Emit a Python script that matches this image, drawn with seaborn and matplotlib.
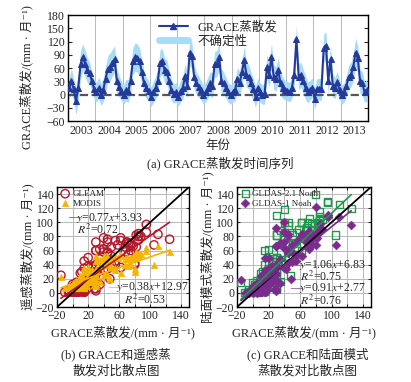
import numpy as np
import pandas as pd
import matplotlib
matplotlib.use("Agg")
import matplotlib.pyplot as plt
import seaborn as sns
from matplotlib.lines import Line2D

# monthly GRACE ET 2003-2013 (mm/month)
grace = [15, 30, 12, -15, 15, 68, 85, 70, 55, 48, 30, 12,
         5, 15, 0, 10, 35, 58, 62, 72, 80, 30, 18, 8,
         0, 10, 8, 30, 75, 85, 82, 75, 50, 25, 15, 8,
         -5, 5, 15, 30, 72, 75, 55, 50, 30, 10, 2, 5,
         -5, 8, 15, 42, 20, 95, 88, 40, 25, 18, 10, 0,
         5, 15, 25, 20, 68, 70, 85, 30, 25, 15, 5, 0,
         5, 10, 35, 25, 50, 78, 45, 40, 25, 12, -5, 15,
         5, 0, 2, 62, 45, 85, 40, 35, 55, 25, 15, 10,
         8, 5, 15, 45, 125, 40, 45, 30, 15, 5, 10, 15,
         -10, 12, 12, 12, 105, 110, 30, 80, 20, 15, 28, 10,
         0, 5, 20, 40, 45, 62, 95, 82, 30, 25, 5, 10]
uncert = [25, 28, 25, 30, 30, 32, 30, 30, 28, 25, 22, 22,
          22, 24, 25, 26, 28, 30, 32, 30, 30, 28, 24, 22,
          22, 24, 26, 28, 30, 32, 32, 30, 28, 26, 24, 22,
          22, 24, 26, 28, 30, 30, 28, 28, 26, 24, 22, 22,
          22, 24, 26, 28, 28, 30, 30, 28, 26, 24, 22, 22,
          22, 24, 26, 28, 30, 30, 30, 28, 26, 24, 22, 22,
          22, 24, 26, 28, 30, 30, 28, 28, 26, 24, 24, 22,
          22, 22, 24, 28, 28, 30, 28, 28, 28, 26, 24, 22,
          22, 22, 24, 28, 32, 30, 28, 28, 26, 24, 22, 22,
          24, 24, 24, 26, 32, 32, 30, 30, 26, 24, 24, 22,
          22, 22, 24, 26, 28, 30, 32, 30, 28, 26, 24, 24]

gleam = [2, 3, 10, 25, 45, 65, 80, 72, 45, 20, 6, 2,
         1, 3, 12, 28, 48, 68, 78, 70, 42, 18, 5, 1,
         2, 4, 10, 26, 60, 75, 82, 68, 40, 20, 6, 2,
         1, 3, 12, 30, 55, 70, 74, 65, 38, 15, 5, 1,
         2, 4, 15, 32, 50, 97, 80, 62, 35, 18, 6, 2,
         1, 5, 14, 28, 58, 72, 84, 60, 38, 16, 5, 1,
         2, 4, 12, 30, 52, 66, 76, 58, 36, 14, 4, 1,
         1, 3, 10, 36, 56, 80, 78, 62, 40, 18, 6, 2,
         2, 4, 14, 34, 76, 62, 72, 60, 35, 15, 5, 1,
         1, 3, 12, 30, 68, 83, 72, 40, 38, 16, 6, 2,
         2, 4, 13, 32, 58, 74, 86, 65, 40, 20, 6, 2]
modis = [8, 10, 15, 22, 35, 48, 55, 50, 35, 20, 12, 8,
         7, 9, 14, 24, 36, 50, 54, 48, 34, 18, 10, 7,
         8, 10, 16, 25, 40, 52, 58, 50, 36, 20, 12, 8,
         7, 9, 15, 24, 38, 50, 52, 46, 32, 18, 10, 7,
         8, 10, 16, 26, 36, 64, 55, 47, 33, 19, 11, 8,
         7, 10, 15, 24, 40, 50, 56, 45, 32, 18, 10, 7,
         8, 9, 15, 25, 38, 52, 50, 44, 31, 17, 10, 7,
         7, 9, 14, 28, 40, 55, 52, 46, 33, 18, 11, 8,
         8, 10, 16, 27, 58, 48, 52, 45, 30, 17, 10, 7,
         7, 9, 15, 25, 40, 67, 52, 30, 32, 18, 11, 8,
         8, 10, 16, 26, 42, 52, 60, 50, 34, 19, 11, 8]
gldas21 = [3, 5, 15, 15, 60, 92, 108, 88, 55, 25, 8, 3,
           2, 5, 14, 28, 58, 90, 100, 105, 80, 22, 7, 2,
           3, 6, 16, 30, 80, 102, 100, 90, 52, 24, 8, 3,
           2, 5, 15, 32, 75, 98, 85, 82, 50, 20, 6, 2,
           2, 6, 17, 40, 62, 128, 104, 85, 45, 22, 7, 3,
           3, 6, 18, 34, 88, 100, 115, 82, 48, 20, 6, 2,
           2, 5, 16, 35, 70, 98, 100, 80, 45, 18, 5, 2,
           2, 4, 12, 60, 72, 104, 118, 88, 65, 24, 7, 3,
           3, 5, 18, 50, 120, 100, 96, 82, 40, 18, 6, 2,
           1, 4, 15, 30, 82, 125, 110, 140, 42, 20, 8, 3,
           2, 5, 16, 42, 68, 100, 130, 95, 50, 25, 7, 3]
gldas1 = [1, 3, 12, 18, 50, 80, 90, 75, 45, 20, 5, 1,
          1, 3, 10, 24, 48, 75, 82, 88, 68, 18, 4, 1,
          1, 4, 12, 26, 68, 88, 85, 76, 44, 20, 5, 1,
          0, 3, 12, 28, 62, 82, 70, 68, 40, 16, 4, 1,
          1, 4, 14, 34, 50, 108, 90, 72, 36, 18, 5, 1,
          1, 4, 15, 28, 72, 84, 98, 66, 38, 16, 4, 0,
          1, 3, 14, 30, 58, 82, 84, 64, 36, 14, 3, 1,
          0, 2, 10, 52, 60, 88, 100, 70, 54, 20, 5, 1,
          1, 3, 15, 42, 96, 86, 80, 66, 32, 14, 4, 1,
          0, 3, 12, 26, 68, 107, 92, 122, 35, 16, 6, 1,
          1, 4, 13, 35, 56, 84, 110, 78, 40, 20, 5, 1]

years = list(range(2003, 2014))
fits = {"GLEAM": (0.77, 3.93, 0.72), "MODIS": (0.38, 12.97, 0.53),
        "GLDAS-2.1 Noah": (1.06, 6.83, 0.75), "GLDAS-1 Noah": (0.91, 2.77, 0.76)}

sns.set_style("ticks")
plt.rcParams["font.family"] = ["Liberation Serif", "Noto Sans CJK SC", "DejaVu Sans"]
plt.rcParams["mathtext.fontset"] = "stix"
plt.rcParams["axes.unicode_minus"] = True

unit = "/(mm · 月⁻¹)"
blue = "#24399a"
band = "#a8dcf5"
grid_c = "#b8b8b8"
fs = 9
tfs = 8.5

df = pd.DataFrame({"t": 2003 + (np.arange(len(grace)) + 0.5) / 12, "et": grace, "u": uncert})

fig = plt.figure(figsize=(4.11, 3.82), dpi=100)

# (a) time series
ax = fig.add_axes([0.1655, 0.6832, 0.7299, 0.2775])
ax.fill_between(df.t, df.et - df.u, df.et + df.u, color=band, lw=0, zorder=1)
sns.lineplot(data=df, x="t", y="et", ax=ax, color=blue, marker="^", markersize=5,
             markeredgecolor=blue, lw=1.5, zorder=3)
ax.axhline(0, color="#555555", ls="--", lw=1.6, zorder=2)
ax.set_xlim(2003, 2014)
ax.set_ylim(-60, 180)
ax.set_yticks(range(-60, 181, 30))
ax.set_yticks(range(-30, 180, 60), minor=True)
ax.set_xticks([y + 0.5 for y in years], labels=[str(y) for y in years])
ax.set_xticks(years[1:], minor=True)
ax.grid(which="minor", color=grid_c, lw=0.7)
ax.grid(which="major", visible=False)
ax.tick_params(axis="x", which="major", length=0, pad=3, labelsize=tfs)
ax.tick_params(axis="x", which="minor", length=0)
ax.tick_params(axis="y", which="major", direction="in", right=True, length=3, labelsize=tfs, pad=2)
ax.tick_params(axis="y", which="minor", length=0)
ax.set_xlabel("")
ax.set_ylabel("GRACE蒸散发" + unit, fontsize=fs)
ax.yaxis.set_label_coords(-0.115, 0.41)
for s in ax.spines.values():
    s.set_color("black")
    s.set_linewidth(1)
hd = [Line2D([], [], color=blue, marker="^", markersize=5, lw=1.5),
      Line2D([], [], color=band, lw=5)]
ax.legend(hd, ["GRACE蒸散发", "不确定性"], loc="upper center", bbox_to_anchor=(0.5, 1.03),
          frameon=False, fontsize=fs, handlelength=2.3, borderpad=0.2, labelspacing=0.2)
fig.text(0.53, 0.618, "年份", ha="center", va="center", fontsize=fs)
fig.text(0.535, 0.573, "(a) GRACE蒸散发时间序列", ha="center", va="center", fontsize=fs)


def scatter_panel(rect, series, ylab, notes):
    ax = fig.add_axes(rect)
    for name, vals, mk, col, filled, size in series:
        if filled:
            sns.scatterplot(x=grace, y=vals, ax=ax, marker=mk, s=size, color=col,
                            edgecolor=col, linewidth=0.4, label=name, zorder=3)
        else:
            sns.scatterplot(x=grace, y=vals, ax=ax, marker=mk, s=size, facecolor="none",
                            edgecolor=col, linewidth=1.0, label=name, zorder=3)
    ax.axline((0, 0), slope=1, color="black", lw=1.3, zorder=4)
    for name, vals, mk, col, filled, size in series:
        a, b, r2 = fits[name]
        xs = np.array([min(grace), max(grace)])
        ax.plot(xs, a * xs + b, color=col, lw=1.2, zorder=5)
    ax.set_xlim(-20, 150)
    ax.set_ylim(-20, 150)
    ax.set_xticks(range(-20, 141, 20), labels=[str(v).replace("-", "−") if v % 40 == 20 or v == -20 else ""
                                                for v in range(-20, 141, 20)])
    ax.set_yticks(range(-20, 141, 20))
    ax.grid(color=grid_c, lw=0.7)
    ax.tick_params(direction="in", top=True, right=True, length=2.5, labelsize=tfs, pad=2)
    ax.set_xlabel("GRACE蒸散发" + unit, fontsize=fs, labelpad=3)
    ax.set_ylabel(ylab + unit, fontsize=fs, labelpad=1)
    for s in ax.spines.values():
        s.set_color("black")
        s.set_linewidth(1)
    ax.legend(loc="upper left", frameon=False, fontsize=6.5, handletextpad=0.2,
              borderpad=0.1, labelspacing=0.15, borderaxespad=0.2, handlelength=1.2)
    for (name, col), (xd, yd, xr, yr) in zip([(s[0], s[3]) for s in series], notes):
        a, b, r2 = fits[name]
        ax.text(xd, yd, "—", color=col, transform=ax.transAxes, fontsize=8.5, va="center", ha="left")
        ax.text(xd + 0.06, yd, f"$y$={a:.2f}$x$+{b:.2f}", transform=ax.transAxes,
                fontsize=8.5, va="center", ha="left", zorder=6)
        ax.text(xr, yr, f"$R^2$={r2:.2f}", transform=ax.transAxes,
                fontsize=8.5, va="center", ha="left", zorder=6)
    return ax


scatter_panel([0.1387, 0.1963, 0.3212, 0.3141],
              [("GLEAM", gleam, "o", "#b5182b", False, 36),
               ("MODIS", modis, "^", "#f5b400", True, 22)],
              "遥感蒸散发",
              [(0.085, 0.745, 0.15, 0.64), (0.39, 0.165, 0.51, 0.06)])
scatter_panel([0.5766, 0.1963, 0.3260, 0.3141],
              [("GLDAS-2.1 Noah", gldas21, "s", "#1c9a4c", False, 26),
               ("GLDAS-1 Noah", gldas1, "D", "#7a2b8c", True, 20)],
              "陆面模式蒸散发",
              [(0.40, 0.35, 0.47, 0.25), (0.40, 0.157, 0.47, 0.053)])

fig.text(0.282, 0.071, "(b) GRACE和遥感蒸", ha="center", va="center", fontsize=fs)
fig.text(0.282, 0.027, "散发对比散点图", ha="center", va="center", fontsize=fs)
fig.text(0.748, 0.071, "(c) GRACE和陆面模式", ha="center", va="center", fontsize=fs)
fig.text(0.748, 0.027, "蒸散发对比散点图", ha="center", va="center", fontsize=fs)

fig.savefig("out.png", dpi=100)
